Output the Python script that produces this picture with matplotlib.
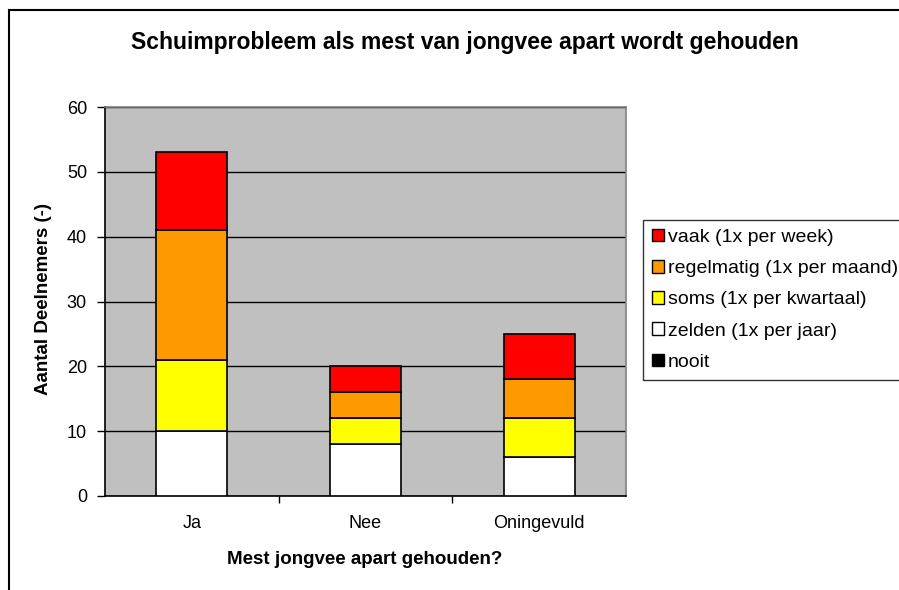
import matplotlib.pyplot as plt
from matplotlib.patches import Rectangle, Patch
import numpy as np

plt.rcParams['font.family'] = ['Liberation Sans', 'DejaVu Sans']

# ---- data
categorieen = ["Ja", "Nee", "Oningevuld"]
series = ["nooit", "zelden (1x per jaar)", "soms (1x per kwartaal)",
          "regelmatig (1x per maand)", "vaak (1x per week)"]
nooit = [0, 0, 0]
zelden = [10, 8, 6]
soms = [11, 4, 6]
regelmatig = [20, 4, 6]
vaak = [12, 4, 7]
waarden = [nooit, zelden, soms, regelmatig, vaak]
kleuren = ['#000000', '#FFFFFF', '#FFFF00', '#FF9900', '#FF0000']

fig = plt.figure(figsize=(8.99, 5.90), dpi=100)
ax = fig.add_axes([105/899, 1-496/590, 521/899, 389/590])
ax.set_facecolor('#C0C0C0')

x = np.arange(len(categorieen))
onder = np.zeros(len(categorieen))
for vals, kl in zip(waarden, kleuren):
    ax.bar(x, vals, 0.41, bottom=onder, color=kl, edgecolor='black', linewidth=1.2, zorder=3)
    onder = onder + np.array(vals)

ax.set_xlim(-0.5, 2.5)
ax.set_ylim(0, 60)
ax.set_yticks(np.arange(0, 61, 10))
ax.yaxis.grid(True, color='black', linewidth=1, zorder=1)
ax.set_axisbelow(True)

ax.set_xticks(x)
ax.set_xticklabels(categorieen, fontsize=13)
ax.tick_params(axis='x', length=0, pad=14)
ax.set_xticks([0.5, 1.5], minor=True)
ax.tick_params(axis='x', which='minor', length=5, width=1, direction='out')
ax.tick_params(axis='y', length=6, width=1, direction='out', labelsize=13, pad=7)

for s in ['top', 'right']:
    ax.spines[s].set_color('#808080')
    ax.spines[s].set_linewidth(1.2)
for s in ['left', 'bottom']:
    ax.spines[s].set_color('black')
    ax.spines[s].set_linewidth(1.2)

fig.text(44/899, 1-299/590, 'Aantal Deelnemers (-)', rotation=90, ha='center', va='center',
         fontsize=13.5, fontweight='bold')
fig.text(365/899, 1-560/590, 'Mest jongvee apart gehouden?', ha='center', va='center',
         fontsize=13.5, fontweight='bold')
fig.text(465/899, 1-42/590, 'Schuimprobleem als mest van jongvee apart wordt gehouden',
         ha='center', va='center', fontsize=16.5, fontweight='bold')

handles = [Patch(facecolor=kl, edgecolor='black', linewidth=1) for kl in kleuren][::-1]
leg = fig.legend(handles, series[::-1], loc='upper left', bbox_to_anchor=(643/899, 1-220/590),
                 fontsize=14, frameon=True, fancybox=False, edgecolor='black',
                 handlelength=0.63, handleheight=0.63, handletextpad=0.2,
                 labelspacing=0.72, borderpad=0.45, borderaxespad=0)
leg.get_frame().set_linewidth(1)

fig.add_artist(Rectangle((9/899, -0.1), 1.1, 1-10/590+0.1, transform=fig.transFigure,
                         fill=False, edgecolor='black', linewidth=1.5, clip_on=False))

plt.savefig("out.png")
